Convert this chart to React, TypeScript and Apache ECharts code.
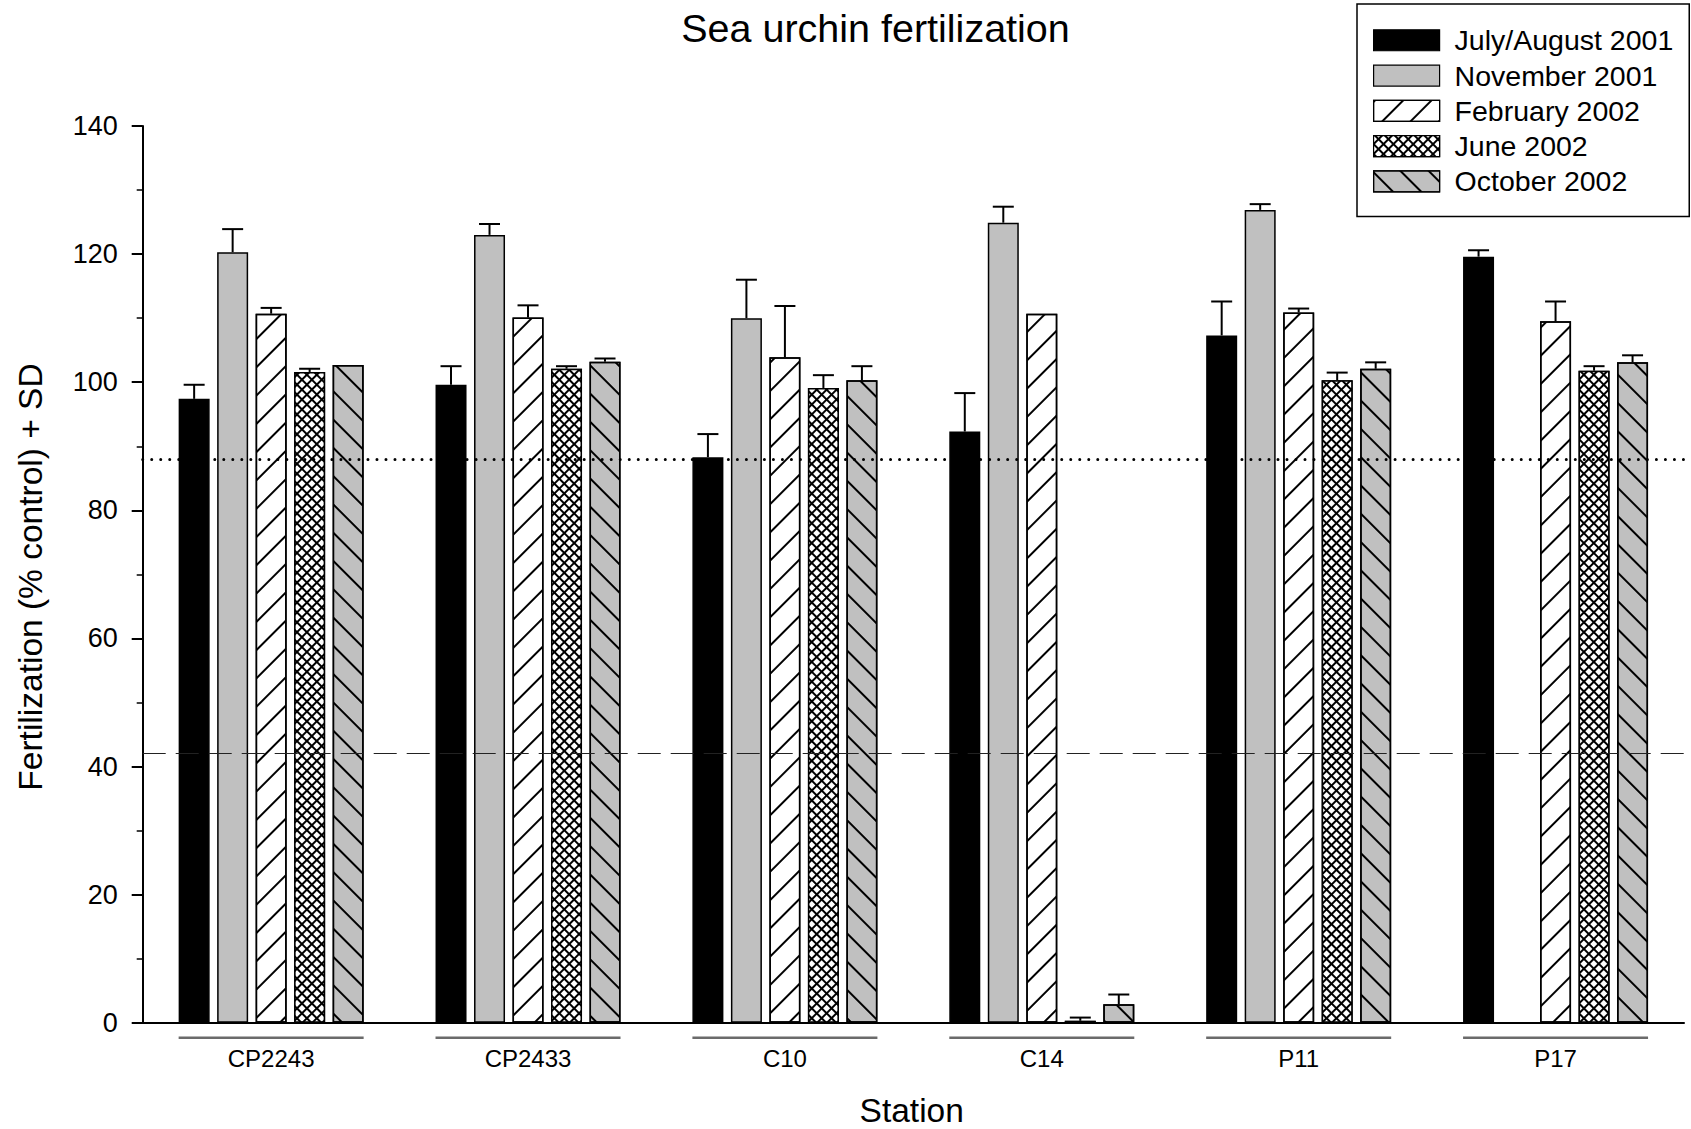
import React, { useEffect, useRef } from 'react';
import * as echarts from 'echarts';

// ---------- data ----------
const stations = ['CP2243', 'CP2433', 'C10', 'C14', 'P11', 'P17'];
const seriesNames = ['July/August 2001', 'November 2001', 'February 2002', 'June 2002', 'October 2002'];

const julAug2001 = [97.4, 99.6, 88.3, 92.3, 107.3, 119.6];
const julAug2001SD = [2.2, 2.9, 3.6, 6.0, 5.3, 1.0];
const nov2001 = [120.3, 123.0, 110.0, 124.9, 126.9, null];
const nov2001SD = [3.6, 1.7, 6.0, 2.5, 0.9, null];
const feb2002 = [110.7, 110.1, 103.9, 110.7, 110.9, 109.5];
const feb2002SD = [0.9, 1.9, 8.0, null, 0.6, 3.1];
const jun2002 = [101.6, 102.1, 99.1, 0.3, 100.3, 101.8];
const jun2002SD = [0.5, 0.4, 2.0, 0.5, 1.2, 0.7];
const oct2002 = [102.7, 103.2, 100.3, 2.9, 102.1, 103.1];
const oct2002SD = [null, 0.5, 2.2, 1.5, 1.0, 1.1];

const seriesValues = [julAug2001, nov2001, feb2002, jun2002, oct2002];
const seriesSD = [julAug2001SD, nov2001SD, feb2002SD, jun2002SD, oct2002SD];

const yMin = 0;
const yMax = 140;
const yInterval = 20;
const dottedRef = 88;
const dashedRef = 42;

const titleText = 'Sea urchin fertilization';
const xTitle = 'Station';
const yTitle = 'Fertilization (% control) + SD';

// ---------- styles ----------
const FONT = '"Liberation Sans", Arial, Helvetica, sans-serif';
const BAR_W = 31;
const BAR_GAP_PX = 7.5;
const CAP_HALF = 10.5;

const barStyles: any[] = [
  { color: '#000000', borderColor: '#000', borderWidth: 1.5 },
  { color: '#c0c0c0', borderColor: '#000', borderWidth: 1.5 },
  {
    color: '#ffffff', borderColor: '#000', borderWidth: 1.5,
    decal: { symbol: 'rect', symbolSize: 1, color: '#000', dashArrayX: [1, 0], dashArrayY: [1.4, 17.6], rotation: -Math.PI / 4 },
  },
  {
    color: '#000000', borderColor: '#000', borderWidth: 1.5,
    decal: { symbol: 'rect', symbolSize: 1, color: '#fff', dashArrayX: [4.2, 1.3], dashArrayY: [4.2, 1.3], rotation: Math.PI / 4 },
  },
  {
    color: '#c0c0c0', borderColor: '#000', borderWidth: 1.5,
    decal: { symbol: 'rect', symbolSize: 1, color: '#000', dashArrayX: [1, 0], dashArrayY: [1.4, 17.6], rotation: Math.PI / 4 },
  },
];

export default function App() {
  const ref = useRef<HTMLDivElement>(null);

  useEffect(() => {
    if (!ref.current) return;
    const chart = echarts.init(ref.current, null, { renderer: 'svg' });

    const n = seriesNames.length;
    const offsets = seriesNames.map((_, k) => (k - (n - 1) / 2) * (BAR_W + BAR_GAP_PX));

    const barSeries = seriesNames.map((name, k) => ({
      name,
      type: 'bar',
      data: seriesValues[k].map((v) => (v == null ? '-' : v)),
      barWidth: BAR_W,
      barGap: (BAR_GAP_PX / BAR_W) * 100 + '%',
      itemStyle: barStyles[k],
      emphasis: { disabled: true },
      z: 2,
    }));

    const errSeries = seriesNames.map((name, k) => ({
      name: name + ' SD',
      type: 'custom',
      z: 4,
      silent: true,
      data: stations
        .map((_, i) => [i, seriesValues[k][i], seriesSD[k][i]])
        .filter((r) => r[1] != null && r[2] != null),
      encode: { x: 0, y: 1 },
      renderItem: (params: any, api: any) => {
        const i = api.value(0);
        const v = api.value(1);
        const sd = api.value(2);
        const base = api.coord([i, v]);
        const top = api.coord([i, v + sd]);
        const x = base[0] + offsets[k];
        return {
          type: 'group',
          children: [
            { type: 'line', shape: { x1: x, y1: base[1], x2: x, y2: top[1] }, style: { stroke: '#000', lineWidth: 2 } },
            { type: 'line', shape: { x1: x - CAP_HALF, y1: top[1], x2: x + CAP_HALF, y2: top[1] }, style: { stroke: '#000', lineWidth: 2 } },
          ],
        };
      },
    }));

    const groupHalf = ((BAR_W + BAR_GAP_PX) * n - BAR_GAP_PX) / 2;
    const underlineSeries = {
      name: 'underline',
      type: 'custom',
      silent: true,
      clip: false,
      data: stations.map((_, i) => [i, 0]),
      encode: { x: 0, y: 1 },
      renderItem: (params: any, api: any) => {
        const c = api.coord([api.value(0), 0]);
        return {
          type: 'line',
          shape: { x1: c[0] - groupHalf, y1: c[1] + 15, x2: c[0] + groupHalf, y2: c[1] + 15 },
          style: { stroke: '#6b6b6b', lineWidth: 2.5 },
        };
      },
    };

    const refSeries = {
      name: 'refs',
      type: 'line',
      data: [],
      z: 5,
      silent: true,
      markLine: {
        silent: true,
        symbol: 'none',
        label: { show: false },
        emphasis: { disabled: true },
        data: [
          { yAxis: dottedRef, lineStyle: { color: '#000', width: 3, type: [0.01, 9], cap: 'round' } },
          { yAxis: dashedRef, lineStyle: { color: '#222', width: 1.2, type: [23, 10] } },
        ],
      },
    };

    const option: any = {
      animation: false,
      backgroundColor: '#ffffff',
      textStyle: { fontFamily: FONT },
      grid: { left: 142.7, right: 7, top: 126, bottom: 106.3, containLabel: false },
      legend: {
        data: seriesNames,
        orient: 'vertical',
        left: 1357,
        top: 4,
        icon: 'rect',
        itemWidth: 66,
        itemHeight: 21,
        itemGap: 6.3,
        padding: [21.75, 16, 20.5, 16],
        borderColor: '#000',
        borderWidth: 1.5,
        backgroundColor: '#fff',
        selectedMode: false,
        itemStyle: { borderColor: '#000', borderWidth: 1.2 },
        textStyle: { fontSize: 28.5, color: '#000', fontFamily: FONT, padding: [0, 0, 0, 10] },
      },
      xAxis: {
        type: 'category',
        data: stations,
        boundaryGap: true,
        axisLine: { show: true, lineStyle: { color: '#000', width: 2 } },
        axisTick: { show: false },
        axisLabel: { show: true, color: '#000', fontSize: 24, fontFamily: FONT, margin: 24 },
        splitLine: { show: false },
      },
      yAxis: {
        type: 'value',
        min: yMin,
        max: yMax,
        interval: yInterval,
        axisLine: { show: true, lineStyle: { color: '#000', width: 2 } },
        axisTick: { show: true, length: 11, lineStyle: { color: '#000', width: 2 } },
        minorTick: { show: true, splitNumber: 2, length: 6, lineStyle: { color: '#000', width: 1.5 } },
        axisLabel: { color: '#000', fontSize: 27, fontFamily: FONT, margin: 25 },
        splitLine: { show: false },
        minorSplitLine: { show: false },
      },
      graphic: [
        {
          type: 'text', x: 875.5, y: 28,
          style: { text: titleText, font: `39.5px ${FONT}`, fill: '#000', textAlign: 'center', textVerticalAlign: 'middle' },
        },
        {
          type: 'text', x: 911.7, y: 1110,
          style: { text: xTitle, font: `33.5px ${FONT}`, fill: '#000', textAlign: 'center', textVerticalAlign: 'middle' },
        },
        {
          type: 'text', x: 30, y: 577, rotation: Math.PI / 2,
          style: { text: yTitle, font: `33.5px ${FONT}`, fill: '#000', textAlign: 'center', textVerticalAlign: 'middle' },
        },
      ],
      series: [...barSeries, ...errSeries, underlineSeries, refSeries],
    };

    chart.setOption(option);
    return () => chart.dispose();
  }, []);

  return (
    <div
      ref={ref}
      style={{ position: 'fixed', left: 0, top: 0, width: 1691, height: 1129, background: '#fff' }}
    />
  );
}
